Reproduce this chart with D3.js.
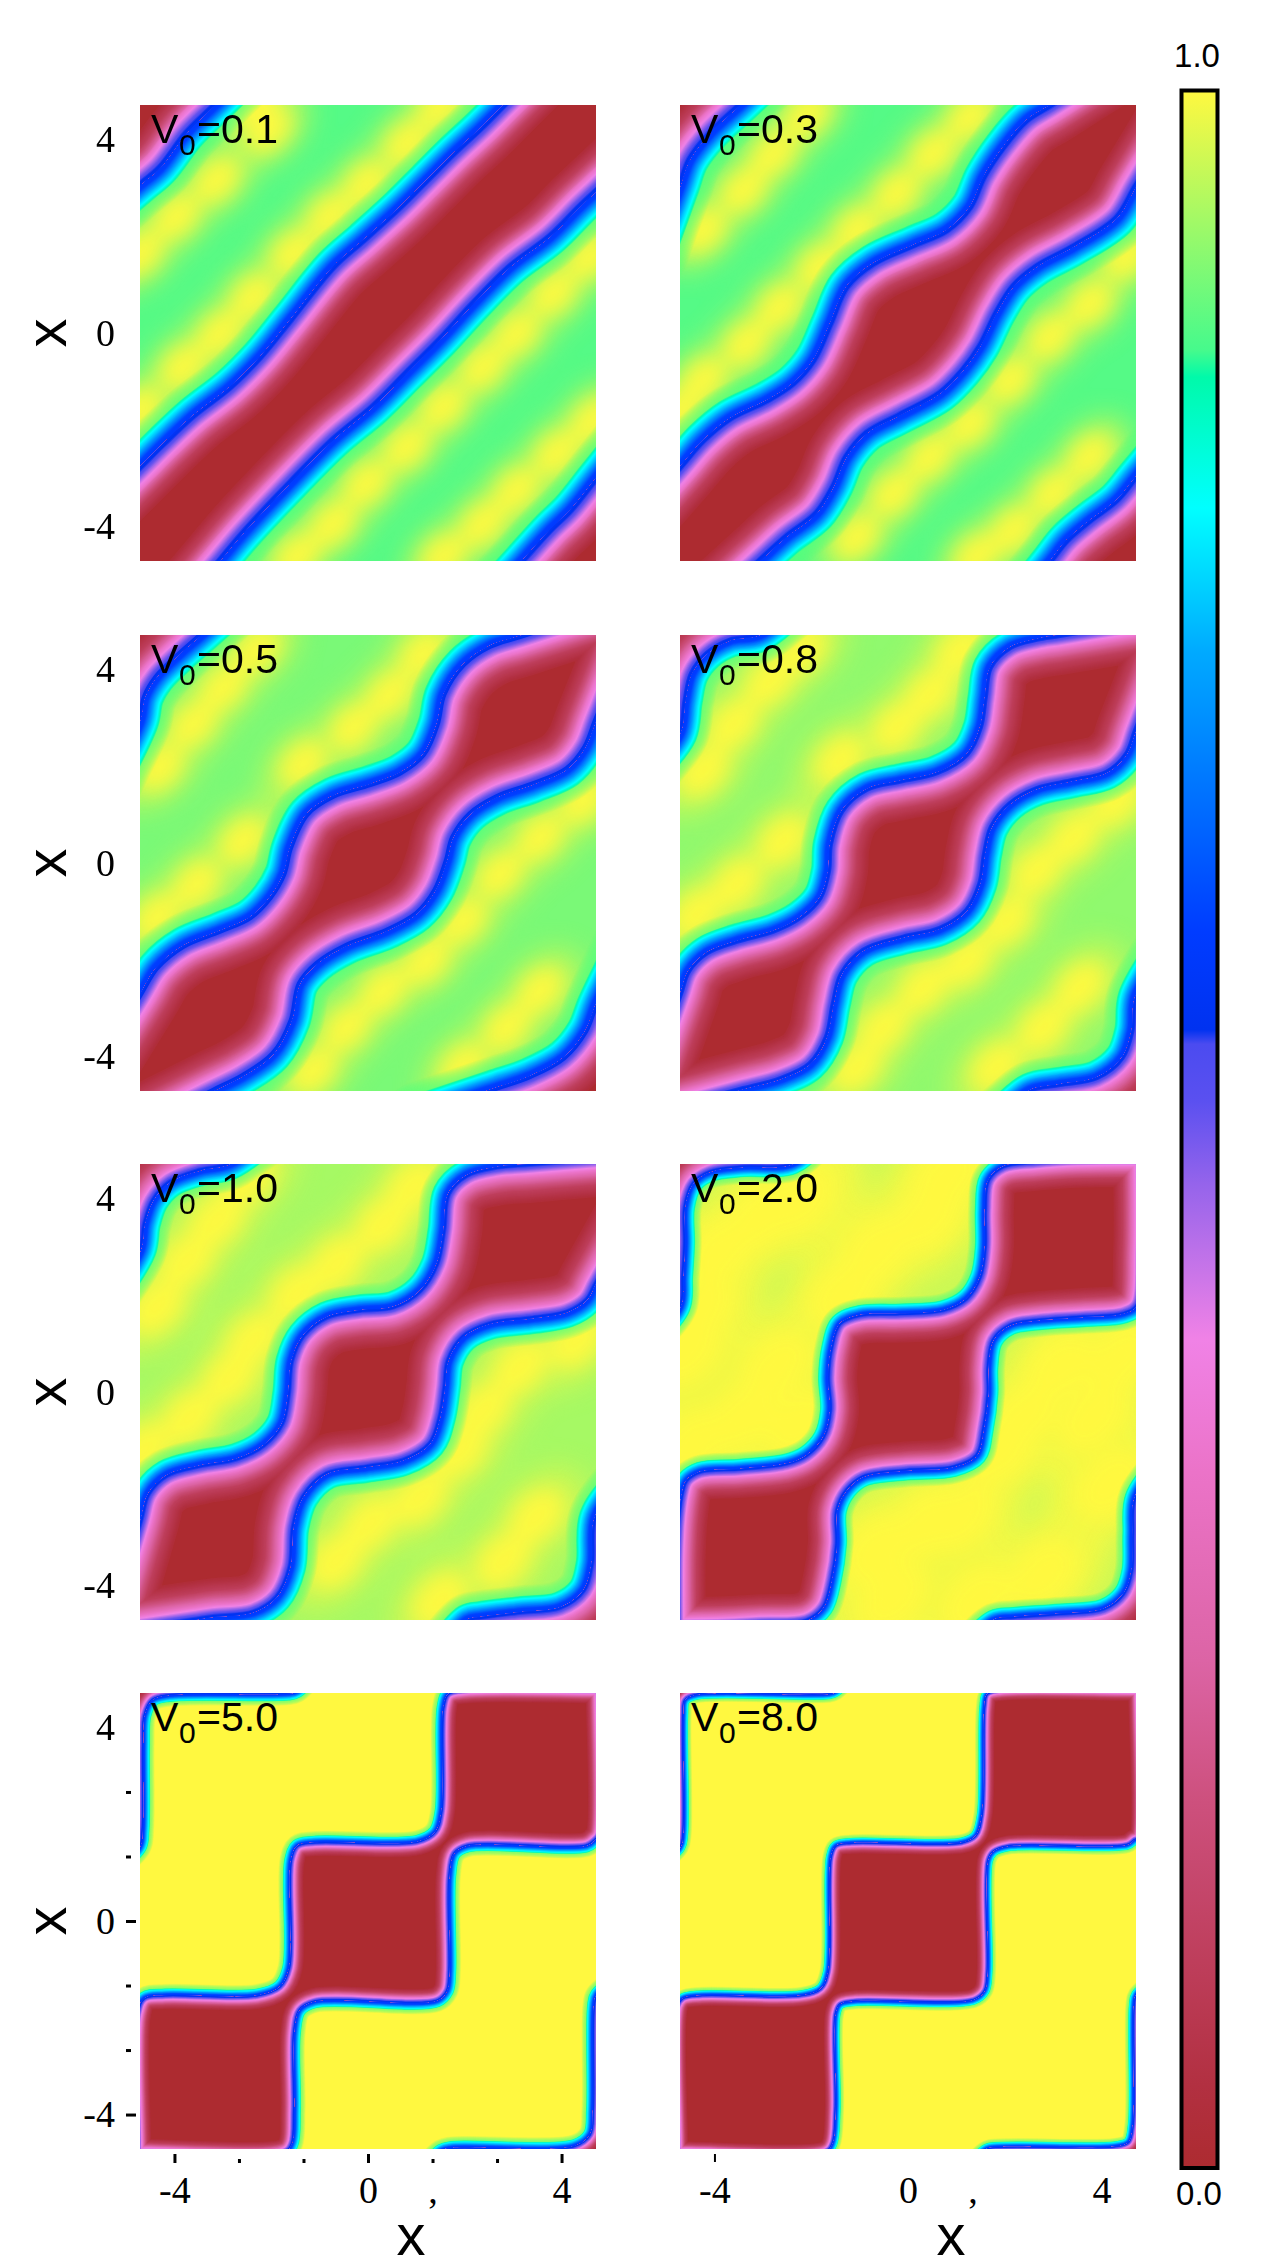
<!DOCTYPE html>
<html>
<head>
<meta charset="utf-8">
<script src="https://cdn.jsdelivr.net/npm/d3@7"></script>
<style>
  body { margin: 0; background: #fff; }
</style>
</head>
<body>
<svg id="chart"></svg>
<script>
// colour bar: value -> colour
const cbarValues = [0, 0.04, 0.176, 0.244, 0.335, 0.399, 0.473, 0.514, 0.541, 0.548, 0.595, 0.73, 0.799, 0.862, 0.875, 1];
const cbarColors = ["#ad2b30", "#b23041", "#cd507d", "#dc64a5", "#eb73c8", "#f082e6", "#9664eb", "#5a50f0", "#4b4bf0", "#0032f0", "#003cff", "#00aaff", "#00ffff", "#00faaa", "#46fa8c", "#fff840"];

const panelV = ["0.1", "0.3", "0.5", "0.8", "1.0", "2.0", "5.0", "8.0"];

// background level between the bright spots, and around them
const baseLevel = [0.885, 0.885, 0.91, 0.925, 0.94, 0.965, 1, 1];
const wideLevel = [0.96, 0.96, 0.96, 0.965, 0.97, 0.995, 1, 1];
// how far the colours spread from the blue contour, in x units
const innerDepth = [0.8, 0.82, 0.85, 0.82, 0.8, 0.6, 0.28, 0.22];
const outerReach = [0.68, 0.68, 0.66, 0.6, 0.55, 0.35, 0.24, 0.18];
// where the pink peak sits inside that depth
const pinkAt = [0.34, 0.33, 0.3, 0.27, 0.25, 0.25, 0.3, 0.3];

// blue contour of the diagonal band, [x, x'], one array per edge, plus the two far corners
const v01Upper = [[-4.71,-2.76],[-4.23,-2.28],[-3.61,-1.70],[-2.85,-1.11],[-2.23,-0.49],[-1.61,0.27],[-0.72,1.37],[-0.10,1.92],[0.66,2.61],[1.21,3.16],[1.76,3.71],[2.32,4.23],[2.80,4.71]];
const v01Lower = [[-3.06,-4.71],[-2.58,-4.14],[-1.75,-3.25],[-0.72,-2.21],[0.11,-1.52],[0.80,-0.83],[1.49,-0.14],[2.18,0.61],[2.94,1.37],[3.76,1.99],[4.38,2.61],[4.71,2.92]];
const v01TL = [[-4.71,3.06],[-4.30,3.41],[-3.75,4.13],[-3.16,4.71]];
const v01BR = [[3.18,-4.71],[3.76,-4.07],[4.18,-3.66],[4.71,-3.00]];

const v03Upper = [[-4.71,-2.76],[-4.23,-2.21],[-3.68,-1.76],[-2.92,-1.39],[-2.38,-1.04],[-1.96,-0.56],[-1.61,0.20],[-1.27,0.96],[-0.72,1.44],[0.11,1.82],[0.80,2.13],[1.28,2.61],[1.56,3.23],[1.97,3.85],[2.45,4.40],[2.94,4.71]];
const v03Lower = [[-3.06,-4.71],[-2.51,-4.21],[-1.89,-3.73],[-1.54,-3.18],[-1.27,-2.56],[-0.85,-2.07],[-0.17,-1.70],[0.66,-1.25],[1.14,-0.77],[1.49,-0.28],[1.83,0.41],[2.18,0.96],[2.66,1.37],[3.42,1.78],[4.31,2.37],[4.71,3.03]];
const v03TL = [[-4.71,3.03],[-4.51,3.58],[-4.09,4.13],[-3.47,4.71]];
const v03BR = [[2.94,-4.71],[3.28,-4.28],[3.76,-3.87],[4.31,-3.45],[4.71,-2.97]];

const v05Upper = [[-4.71,-2.71],[-4.37,-2.16],[-3.82,-1.71],[-3.06,-1.40],[-2.44,-1.12],[-2.03,-0.71],[-1.75,-0.23],[-1.61,0.32],[-1.27,1.01],[-0.72,1.39],[0.04,1.63],[0.66,1.87],[1.14,2.25],[1.42,2.87],[1.56,3.49],[1.97,4.11],[2.52,4.49],[3.14,4.69]];
const v05Lower = [[-3.20,-4.71],[-2.58,-4.40],[-1.96,-3.95],[-1.58,-3.26],[-1.41,-2.50],[-1.06,-2.09],[-0.44,-1.71],[0.39,-1.40],[1.01,-1.05],[1.39,-0.57],[1.63,0.05],[1.76,0.53],[2.11,1.01],[2.66,1.36],[3.42,1.63],[4.11,1.94],[4.49,2.39],[4.71,2.94]];
const v05TL = [[-5.20,1.90],[-4.71,2.94],[-4.61,3.43],[-4.37,3.84],[-3.89,4.32],[-3.47,4.69]];
const v05BR = [[2.45,-4.71],[2.66,-4.64],[3.35,-4.40],[4.04,-4.02],[4.49,-3.47],[4.71,-2.92],[5.20,-1.90]];

const v08Upper = [[-4.71,-2.71],[-4.54,-2.23],[-4.16,-1.85],[-3.54,-1.61],[-2.78,-1.40],[-2.23,-1.12],[-1.82,-0.71],[-1.65,-0.16],[-1.61,0.39],[-1.37,1.08],[-0.85,1.53],[-0.17,1.70],[0.59,1.87],[1.21,2.25],[1.49,2.81],[1.59,3.43],[1.70,4.05],[2.11,4.46],[2.66,4.63],[3.14,4.71]];
const v08Lower = [[-3.40,-4.67],[-2.65,-4.47],[-2.03,-4.16],[-1.68,-3.60],[-1.54,-2.92],[-1.37,-2.30],[-0.92,-1.81],[-0.10,-1.54],[0.66,-1.36],[1.21,-0.99],[1.49,-0.43],[1.59,0.19],[1.73,0.74],[2.11,1.22],[2.66,1.53],[3.42,1.70],[4.11,1.87],[4.52,2.25],[4.71,2.74]];
const v08TL = [[-5.30,1.90],[-4.71,2.67],[-4.60,3.35],[-4.47,3.91],[-4.16,4.32],[-3.68,4.60],[-3.06,4.71],[-2.30,5.30]];
const v08BR = [[1.90,-5.20],[2.52,-4.69],[3.14,-4.57],[3.90,-4.43],[4.42,-4.02],[4.62,-3.47],[4.69,-2.78],[5.30,-1.70]];

const v10Upper = [[-4.70,-2.65],[-4.54,-2.10],[-4.16,-1.72],[-3.47,-1.52],[-2.72,-1.38],[-2.16,-1.10],[-1.78,-0.65],[-1.65,-0.03],[-1.58,0.65],[-1.34,1.17],[-0.85,1.55],[-0.17,1.69],[0.52,1.76],[1.08,2.10],[1.42,2.65],[1.56,3.34],[1.66,4.10],[2.04,4.48],[2.66,4.65],[3.35,4.71]];
const v10Lower = [[-3.61,-4.71],[-3.20,-4.65],[-2.37,-4.55],[-1.89,-4.24],[-1.61,-3.62],[-1.54,-2.79],[-1.34,-2.17],[-0.85,-1.69],[-0.03,-1.55],[0.73,-1.41],[1.28,-1.07],[1.49,-0.52],[1.59,0.10],[1.66,0.65],[1.97,1.14],[2.52,1.41],[3.35,1.52],[4.11,1.65],[4.52,1.90],[4.71,2.24]];
const v10TL = [[-5.40,1.80],[-4.70,2.93],[-4.61,3.48],[-4.44,3.96],[-4.09,4.34],[-3.47,4.58],[-2.85,4.71],[-2.00,5.30]];
const v10BR = [[1.50,-5.30],[2.04,-4.71],[2.32,-4.65],[3.14,-4.55],[3.97,-4.45],[4.45,-4.10],[4.62,-3.55],[4.69,-2.58],[5.40,-1.60]];

const v20Upper = [[-4.78,-4.84],[-4.78,-3.40],[-4.74,-2.60],[-4.66,-2.05],[-4.58,-1.83],[-4.30,-1.65],[-3.47,-1.59],[-2.51,-1.48],[-2.10,-1.31],[-1.75,-0.93],[-1.61,-0.38],[-1.65,0.31],[-1.58,0.93],[-1.41,1.41],[-0.99,1.59],[-0.17,1.62],[0.73,1.69],[1.21,1.93],[1.49,2.38],[1.59,3.00],[1.59,3.76],[1.66,4.38],[1.97,4.66],[2.66,4.76],[3.49,4.82],[4.84,4.84]];
const v20Lower = [[-4.78,-4.84],[-3.82,-4.82],[-3.06,-4.78],[-2.10,-4.72],[-1.75,-4.45],[-1.58,-3.90],[-1.47,-3.14],[-1.47,-2.45],[-1.27,-2.03],[-0.92,-1.75],[-0.03,-1.62],[0.94,-1.55],[1.42,-1.31],[1.56,-0.79],[1.66,-0.03],[1.66,0.52],[1.76,1.07],[2.11,1.38],[2.66,1.48],[3.63,1.55],[4.45,1.62],[4.74,1.80],[4.84,2.93],[4.84,4.84]];
const v20TL = [[-5.40,0.90],[-4.70,1.76],[-4.65,2.38],[-4.61,3.07],[-4.61,3.82],[-4.44,4.31],[-4.09,4.55],[-3.40,4.65],[-2.37,4.71],[-1.60,5.40]];
const v20BR = [[1.00,-5.40],[1.76,-4.71],[2.18,-4.65],[3.14,-4.58],[4.04,-4.48],[4.45,-4.17],[4.62,-3.69],[4.64,-2.93],[4.69,-2.17],[5.40,-1.20]];

const v50Upper = [[-4.76,-4.78],[-4.76,-1.92],[-4.62,-1.60],[-4.19,-1.54],[-2.29,-1.54],[-1.82,-1.36],[-1.63,-0.97],[-1.59,1.25],[-1.46,1.55],[-1.10,1.62],[1.03,1.64],[1.39,1.84],[1.52,2.27],[1.56,4.41],[1.66,4.69],[2.06,4.78],[4.78,4.78]];
const v50Lower = [[-4.76,-4.78],[-1.74,-4.78],[-1.58,-4.61],[-1.53,-3.90],[-1.53,-2.31],[-1.42,-1.84],[-1.10,-1.66],[1.43,-1.64],[1.63,-1.44],[1.68,-1.05],[1.68,0.93],[1.78,1.40],[2.06,1.56],[4.51,1.56],[4.69,1.68],[4.78,1.80],[4.78,4.78]];
const v50TL = [[-5.40,0.90],[-4.72,1.52],[-4.66,1.88],[-4.65,3.62],[-4.62,4.25],[-4.46,4.57],[-4.11,4.67],[-1.66,4.70],[-1.46,4.75],[-0.90,5.40]];
const v50BR = [[0.90,-5.40],[1.51,-4.75],[1.74,-4.69],[4.27,-4.65],[4.59,-4.41],[4.65,-3.90],[4.67,-1.76],[4.73,-1.52],[5.40,-1.00]];

const v80Upper = [[-4.76,-4.77],[-4.76,-1.76],[-4.65,-1.60],[-4.26,-1.54],[-2.20,-1.54],[-1.80,-1.40],[-1.65,-1.05],[-1.59,1.32],[-1.49,1.55],[-1.17,1.61],[1.12,1.62],[1.40,1.76],[1.53,2.20],[1.58,4.41],[1.64,4.69],[1.91,4.77],[4.77,4.77]];
const v80Lower = [[-4.76,-4.77],[-1.72,-4.77],[-1.57,-4.61],[-1.50,-3.90],[-1.50,-1.92],[-1.41,-1.72],[-1.09,-1.65],[1.36,-1.62],[1.58,-1.44],[1.64,-1.05],[1.65,1.25],[1.76,1.44],[2.07,1.55],[4.53,1.58],[4.68,1.68],[4.77,1.72],[4.77,4.77]];
const v80TL = [[-5.40,0.90],[-4.71,1.52],[-4.65,1.80],[-4.65,4.25],[-4.61,4.57],[-4.37,4.68],[-1.65,4.69],[-1.49,4.74],[-0.90,5.40]];
const v80BR = [[0.90,-5.40],[1.56,-4.75],[1.68,-4.69],[4.29,-4.66],[4.56,-4.57],[4.65,-4.21],[4.67,-1.76],[4.72,-1.52],[5.40,-1.00]];

// bright maxima of the background, [x, x']
const v01Spots = [[-3.13,3.16],[-3.96,2.41],[-4.71,1.65],[-2.05,4.20],[0.80,3.92],[1.49,4.68],[-0.03,3.09],[-0.79,2.41],[-1.54,1.65],[-2.37,0.75],[-3.06,-0.01],[-3.82,-0.70],[-4.71,-1.59],[-2.30,4.68],[4.59,1.58],[3.83,0.82],[3.07,-0.01],[2.38,-0.70],[1.56,-1.52],[0.80,-2.35],[-0.03,-3.11],[-0.72,-3.94],[-1.47,-4.62],[4.66,-1.80],[3.90,-2.49],[3.07,-3.25],[2.38,-3.94],[1.56,-4.62]];
const v03Spots = [[-3.40,2.96],[-4.23,2.13],[-2.78,3.71],[-2.10,4.50],[-2.65,0.54],[-3.34,-0.21],[-4.23,-0.97],[-1.82,1.36],[-1.06,2.13],[-0.23,2.89],[0.52,3.71],[1.28,4.47],[3.76,0.61],[2.94,-0.08],[2.11,-0.97],[1.28,-1.87],[0.45,-2.56],[-0.30,-3.31],[-1.06,-4.21],[4.52,1.58],[3.76,-2.56],[3.00,-3.31],[2.18,-4.07],[1.42,-4.62],[-4.71,-1.59]];
const v05Spots = [[-3.61,2.87],[-4.30,1.98],[-2.99,3.63],[-2.30,4.40],[-2.58,0.46],[-3.54,-0.43],[-4.37,-1.12],[-1.34,2.05],[-0.30,2.81],[0.45,3.49],[1.14,4.32],[3.56,0.53],[2.73,-0.23],[1.97,-1.19],[1.21,-2.02],[0.32,-2.64],[-0.44,-3.40],[-1.13,-4.29],[4.45,1.29],[3.56,-2.64],[2.87,-3.40],[1.97,-4.22]];
const v08Spots = [[-3.61,2.87],[-4.23,1.91],[-2.85,3.77],[-2.20,4.40],[-2.58,0.46],[-3.54,-0.43],[-4.37,-1.05],[-1.41,2.12],[-0.23,2.81],[0.45,3.49],[1.08,4.39],[3.42,0.53],[2.66,-0.16],[2.04,-1.19],[1.21,-2.02],[0.32,-2.57],[-0.51,-3.40],[-1.06,-4.22],[4.31,1.29],[3.56,-2.57],[2.80,-3.40],[1.83,-4.22]];
const v10Spots = [[-3.75,2.72],[-4.37,1.76],[-3.13,3.55],[-2.50,4.40],[-2.85,0.31],[-3.68,-0.52],[-4.65,-1.21],[-2.37,1.07],[-1.47,2.03],[-0.65,2.65],[0.32,3.48],[0.94,4.24],[3.14,0.52],[2.38,-0.38],[1.90,-1.21],[1.08,-2.17],[0.04,-2.72],[-0.65,-3.48],[4.31,1.07],[3.49,-2.58],[2.80,-3.48],[1.49,-4.31]];
const v20Spots = [[-3.89,2.93],[-3.06,3.62],[-2.23,3.96],[-0.65,2.93],[0.39,3.62],[0.80,4.45],[-4.30,1.69],[-2.72,0.52],[-3.40,-0.52],[-4.44,-1.07],[-4.58,0.86],[-2.23,-0.65],[3.14,0.52],[2.38,-0.52],[1.90,-1.21],[0.39,-2.72],[-0.65,-3.27],[3.83,-0.52],[4.18,-1.90],[2.80,-3.76],[1.08,-2.58],[-0.30,-4.24],[1.42,-4.31],[4.38,0.72],[-1.34,2.03]];

const upperEdges = [v01Upper, v03Upper, v05Upper, v08Upper, v10Upper, v20Upper, v50Upper, v80Upper];
const lowerEdges = [v01Lower, v03Lower, v05Lower, v08Lower, v10Lower, v20Lower, v50Lower, v80Lower];
const topLeftEdges = [v01TL, v03TL, v05TL, v08TL, v10TL, v20TL, v50TL, v80TL];
const bottomRightEdges = [v01BR, v03BR, v05BR, v08BR, v10BR, v20BR, v50BR, v80BR];
const spotLists = [v01Spots, v03Spots, v05Spots, v08Spots, v10Spots, v20Spots, [], []];
const spotScale = [1, 1, 1.05, 1.15, 1.25, 1.6, 1, 1];

const xExtent = [-4.712, 4.712];
const sideTicks = [-4, 0, 4];
const minorTicks = [-8 / 3, -4 / 3, 4 / 3, 8 / 3];

const width = 1274, height = 2268, panelSize = 456;
const colLeft = [140, 680];
const rowTop = [105, 635, 1164, 1693];

const svg = d3.select("#chart").attr("width", width).attr("height", height);
const defs = svg.append("defs");

const color = d3.scaleLinear().domain(cbarValues).range(cbarColors).clamp(true);
const x = d3.scaleLinear().domain(xExtent).range([0, panelSize]);
const y = d3.scaleLinear().domain(xExtent).range([panelSize, 0]);
const pxPerUnit = panelSize / (xExtent[1] - xExtent[0]);

const line = d3.line()
  .x((d) => x(d[0]))
  .y((d) => y(d[1]))
  .curve(d3.curveCatmullRom.alpha(0.5));

function addBlur(id, dev) {
  defs.append("filter")
    .attr("id", id)
    .attr("filterUnits", "userSpaceOnUse")
    .attr("x", -60).attr("y", -60)
    .attr("width", panelSize + 120).attr("height", panelSize + 120)
    .attr("color-interpolation-filters", "sRGB")
    .append("feGaussianBlur")
    .attr("stdDeviation", dev);
}
addBlur("blur-wide", 14);
addBlur("blur-core", 10);
addBlur("blur-band", 0.6);

defs.append("clipPath").attr("id", "panel-clip")
  .append("rect").attr("width", panelSize).attr("height", panelSize);

// carry an edge on past the frame so its far end stays out of sight
function carry(a, b) {
  const dx = a[0] - b[0], dy = a[1] - b[1], n = Math.hypot(dx, dy) || 1;
  return [a[0] + (dx / n) * 1.5, a[1] + (dy / n) * 1.5];
}
function carried(edge) {
  const k = edge.length - 1;
  return [carry(edge[0], edge[1]), ...edge, carry(edge[k], edge[k - 1])];
}
function farPoint(a, b) {
  return "L" + x(a) + "," + y(b);
}
function bandPath(upper, lower) {
  return line(carried(upper)) + farPoint(9, 9) +
    line(carried(lower).reverse()).replace("M", "L") + farPoint(-9, -9) + "Z";
}
function cornerPath(edge, a, b) {
  return line(carried(edge)) + farPoint(a, b) + "Z";
}

const outerLevel = d3.scaleLinear().domain([0, 0.14, 0.36, 0.5, 0.6]).range([0.59, 0.6, 0.74, 0.8, 0.87]);

function drawRegion(g, d, id, depth, reach, pink) {
  const steps = 40;
  const innerLevel = d3.scaleLinear()
    .domain([0, 0.35 * pink, 0.7 * pink, pink, 1.35 * pink, pink + 0.25 * (1 - pink), pink + 0.6 * (1 - pink), 1])
    .range([0.57, 0.54, 0.47, 0.4, 0.33, 0.25, 0.1, 0.02]);
  // outside the contour, widest stroke first
  d3.range(steps, 0, -1).forEach((k) => {
    const t = k / steps;
    const s = g.append("path")
      .attr("d", d)
      .attr("fill", "none")
      .attr("stroke-linejoin", "round")
      .attr("stroke-width", 2 * t * reach * pxPerUnit);
    if (t > 0.6) {
      s.attr("stroke", color(0.89)).attr("stroke-opacity", 0.08);
    } else {
      s.attr("stroke", color(outerLevel(t)));
    }
  });
  // inside the contour
  defs.append("clipPath").attr("id", id).append("path").attr("d", d);
  const inner = g.append("g").attr("clip-path", "url(#" + id + ")");
  inner.append("path").attr("d", d).attr("fill", color(0));
  d3.range(steps, 0, -1).forEach((k) => {
    const t = k / steps;
    inner.append("path")
      .attr("d", d)
      .attr("fill", "none")
      .attr("stroke-linejoin", "round")
      .attr("stroke", color(innerLevel(t)))
      .attr("stroke-width", 2 * t * depth * pxPerUnit);
  });
}

function drawSpots(g, spots, filter, rx, ry, fill, opacity) {
  g.append("g")
    .attr("filter", filter)
    .attr("opacity", opacity)
    .selectAll("ellipse")
    .data(spots)
    .enter()
    .append("ellipse")
    .attr("transform", (d) => `translate(${x(d[0])},${y(d[1])}) rotate(-45)`)
    .attr("rx", rx)
    .attr("ry", ry)
    .attr("fill", fill);
}

panelV.forEach((v, i) => {
  const col = i % 2, row = Math.floor(i / 2);
  const g = svg.append("g").attr("transform", `translate(${colLeft[col]},${rowTop[row]})`);
  const frame = g.append("g").attr("clip-path", "url(#panel-clip)");

  frame.append("rect")
    .attr("width", panelSize).attr("height", panelSize)
    .attr("fill", color(baseLevel[i]));

  drawSpots(frame, spotLists[i], "url(#blur-wide)", 48 * spotScale[i], 30 * spotScale[i], color(wideLevel[i]), 0.88);
  drawSpots(frame, spotLists[i], "url(#blur-core)", 26 * spotScale[i], 18 * spotScale[i], color(1), 0.95);

  const bands = frame.append("g").attr("filter", "url(#blur-band)");
  drawRegion(bands, bandPath(upperEdges[i], lowerEdges[i]), "band-" + i, innerDepth[i], outerReach[i], pinkAt[i]);
  drawRegion(bands, cornerPath(topLeftEdges[i], -9, 9), "tl-" + i, innerDepth[i], outerReach[i], pinkAt[i]);
  drawRegion(bands, cornerPath(bottomRightEdges[i], 9, -9), "br-" + i, innerDepth[i], outerReach[i], pinkAt[i]);

  // V0 label
  const label = g.append("g").attr("font-family", "Liberation Sans").attr("fill", "#000");
  label.append("text").attr("x", 11).attr("y", 38).attr("font-size", 41).text("V");
  label.append("text").attr("x", 39).attr("y", 50).attr("font-size", 30).text("0");
  label.append("text").attr("x", 57).attr("y", 38).attr("font-size", 41).text("=" + v);

  // tick labels on the left column
  if (col === 0) {
    const ya = g.append("g")
      .call(d3.axisLeft(y).tickValues(sideTicks).tickSize(0).tickPadding(25).tickFormat((d) => d));
    ya.select(".domain").remove();
    ya.selectAll("text").attr("font-family", "Liberation Serif").attr("font-size", 38).attr("fill", "#000");

    g.append("text")
      .attr("transform", `translate(-74,${panelSize / 2}) rotate(-90)`)
      .attr("text-anchor", "middle")
      .attr("font-family", "Liberation Sans")
      .attr("font-size", 58)
      .text("x");
  }

  if (row === 3) {
    const xa = g.append("g")
      .attr("transform", `translate(0,${panelSize})`)
      .call(d3.axisBottom(x).tickValues([-4, 0, 4 / 3, 4]).tickSize(0).tickFormat((d) => (d === 4 / 3 ? "," : d)));
    xa.select(".domain").remove();
    xa.selectAll("text")
      .attr("y", 54).attr("dy", 0)
      .attr("font-family", "Liberation Serif").attr("font-size", 38).attr("fill", "#000");

    g.append("text")
      .attr("x", x(0) + 43)
      .attr("y", panelSize + 106)
      .attr("text-anchor", "middle")
      .attr("font-family", "Liberation Sans")
      .attr("font-size", 58)
      .text("x");
  }
});

// tick marks exist only on the bottom row
function tickMarks(axis, at, strokeW) {
  const t = svg.append("g").attr("transform", at).call(axis.tickFormat(""));
  t.select(".domain").remove();
  t.selectAll("line").attr("stroke", "#000").attr("stroke-width", strokeW);
}
const leftX = colLeft[0], rightX = colLeft[1], lastY = rowTop[3];
tickMarks(d3.axisBottom(x).tickValues(sideTicks).tickSize(9), `translate(${leftX},${lastY + panelSize + 5})`, 3);
tickMarks(d3.axisBottom(x).tickValues(minorTicks).tickSize(4), `translate(${leftX},${lastY + panelSize + 10})`, 3);
tickMarks(d3.axisLeft(y).tickValues([-4, 0]).tickSize(10), `translate(${leftX - 4},${lastY})`, 3);
tickMarks(d3.axisLeft(y).tickValues(minorTicks).tickSize(5), `translate(${leftX - 9},${lastY})`, 3);
tickMarks(d3.axisBottom(x).tickValues([-4]).tickSize(8), `translate(${rightX},${lastY + panelSize + 5})`, 2);

// colour bar
const barTop = 90.5, barBottom = 2168, barLeft = 1181.5, barWidth = 36;
const grad = defs.append("linearGradient")
  .attr("id", "cbar").attr("x1", 0).attr("x2", 0).attr("y1", 1).attr("y2", 0);
grad.selectAll("stop")
  .data(cbarValues)
  .enter()
  .append("stop")
  .attr("offset", (d) => d)
  .attr("stop-color", (d, i) => cbarColors[i]);

svg.append("rect")
  .attr("x", barLeft).attr("y", barTop)
  .attr("width", barWidth).attr("height", barBottom - barTop)
  .attr("fill", "url(#cbar)")
  .attr("stroke", "#000")
  .attr("stroke-width", 4);

svg.append("text")
  .attr("x", 1197).attr("y", 67)
  .attr("text-anchor", "middle")
  .attr("font-family", "Liberation Sans").attr("font-size", 33)
  .text("1.0");
svg.append("text")
  .attr("x", 1199).attr("y", 2205)
  .attr("text-anchor", "middle")
  .attr("font-family", "Liberation Sans").attr("font-size", 33)
  .text("0.0");
</script>
</body>
</html>
